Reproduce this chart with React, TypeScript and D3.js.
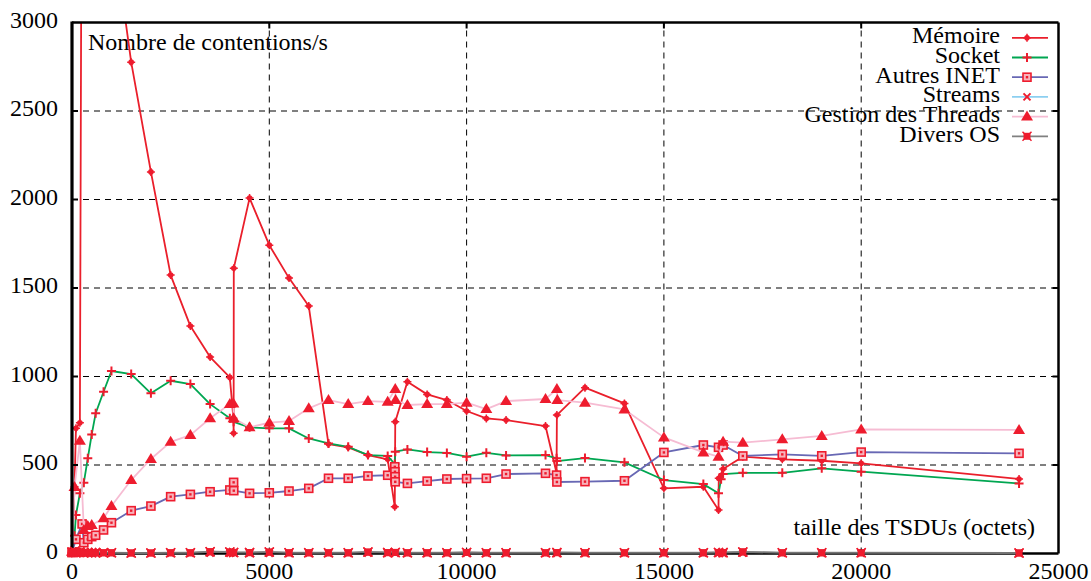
import React from 'react';
import * as d3 from 'd3';

type Pt = [number, number];

const xTicks = [0, 5000, 10000, 15000, 20000, 25000];
const yTicks = [0, 500, 1000, 1500, 2000, 2500, 3000];

const memoire: Pt[] = [
  [0, 5], [64, 377], [100, 707], [200, 739], [256, 4800], [1500, 2776], [2000, 2156],
  [2500, 1573], [3000, 1285], [3500, 1110], [4000, 995], [4090, 764], [4096, 679],
  [4100, 1612], [4500, 2008], [5000, 1742], [5500, 1556], [6000, 1398], [6500, 618],
  [7000, 600], [7500, 556], [8000, 532], [8180, 264], [8192, 744], [8500, 970],
  [9000, 899], [9500, 867], [10000, 805], [10500, 763], [11000, 754], [12000, 720],
  [12280, 455], [12288, 782], [13000, 937], [14000, 848], [15000, 368], [16000, 377],
  [16384, 246], [16390, 425], [16500, 477], [17000, 547], [18000, 532], [19000, 524],
  [20000, 509], [24000, 421],
];

const socket: Pt[] = [
  [0, 5], [64, 100], [100, 217], [200, 340], [300, 400], [400, 538], [500, 673],
  [600, 792], [800, 914], [1000, 1031], [1500, 1014], [2000, 905], [2500, 976],
  [3000, 957], [3500, 844], [4000, 764], [4096, 744], [4500, 713], [5000, 707],
  [5500, 707], [6000, 650], [6500, 622], [7000, 603], [7500, 556], [8000, 551],
  [8180, 505], [8192, 575], [8500, 588], [9000, 573], [9500, 568], [10000, 547],
  [10500, 569], [11000, 554], [12000, 556], [12280, 538], [12288, 522], [13000, 539],
  [14000, 515], [15000, 415], [16000, 392], [16384, 340], [16450, 420], [16500, 449],
  [17000, 456], [18000, 456], [19000, 481], [20000, 462], [24000, 396],
];

const autresInet: Pt[] = [
  [0, 5], [100, 80], [256, 167], [300, 61], [400, 80], [500, 95], [600, 103],
  [800, 133], [1000, 174], [1500, 242], [2000, 268], [2500, 321], [3000, 334],
  [3500, 349], [4000, 359], [4096, 402], [4100, 355], [4500, 340], [5000, 343],
  [5500, 353], [6000, 368], [6500, 425], [7000, 425], [7500, 438], [8000, 442],
  [8180, 490], [8184, 462], [8188, 434], [8192, 405], [8500, 396], [9000, 409],
  [9500, 421], [10000, 423], [10500, 425], [11000, 449], [12000, 453], [12280, 443],
  [12288, 404], [13000, 406], [14000, 411], [15000, 571], [16000, 613], [16384, 600],
  [16500, 613], [17000, 551], [18000, 560], [19000, 552], [20000, 573], [24000, 566],
];

const streams: Pt[] = [
  [0, 2], [64, 1], [100, 2], [200, 1], [300, 1], [400, 2], [500, 1], [600, 1],
  [800, 1], [1000, 1], [1500, 1], [2000, 1], [2500, 1], [3000, 1], [3500, 2],
  [4000, 1], [4096, 2], [4500, 1], [5000, 1], [5500, 1], [6000, 1], [6500, 1],
  [7000, 1], [7500, 2], [8000, 1], [8192, 1], [8500, 1], [9000, 1], [9500, 1],
  [10000, 1], [10500, 1], [11000, 1], [12000, 1], [12288, 1], [13000, 1], [14000, 1],
  [15000, 1], [16000, 1], [16384, 1], [16500, 1], [17000, 2], [18000, 1], [19000, 1],
  [20000, 1], [24000, 1],
];

const threads: Pt[] = [
  [0, 10], [64, 376], [200, 637], [300, 133], [400, 155], [500, 161], [800, 199],
  [1000, 268], [1500, 415], [2000, 534], [2500, 631], [3000, 669], [3500, 764],
  [4000, 844], [4090, 848], [4096, 764], [4500, 713], [5000, 739], [5500, 748],
  [6000, 820], [6500, 867], [7000, 844], [7500, 861], [8000, 857], [8192, 929],
  [8200, 867], [8500, 839], [9000, 844], [9500, 844], [10000, 852], [10500, 816],
  [11000, 861], [12000, 873], [12288, 929], [12300, 867], [13000, 852], [14000, 814],
  [15000, 656], [16000, 571], [16384, 547], [16500, 632], [17000, 626], [18000, 645],
  [19000, 664], [20000, 701], [24000, 698],
];

const diversOs: Pt[] = [
  [0, 8], [64, 12], [100, 6], [200, 9], [300, 5], [400, 6], [500, 5], [600, 5],
  [800, 4], [1000, 4], [1500, 3], [2000, 3], [2500, 4], [3000, 4], [3500, 10],
  [4000, 8], [4096, 6], [4500, 5], [5000, 8], [5500, 4], [6000, 4], [6500, 4],
  [7000, 4], [7500, 8], [8000, 5], [8192, 6], [8500, 4], [9000, 4], [9500, 4],
  [10000, 6], [10500, 4], [11000, 4], [12000, 4], [12288, 5], [13000, 4], [14000, 4],
  [15000, 4], [16000, 4], [16384, 6], [16500, 5], [17000, 9], [18000, 4], [19000, 4],
  [20000, 4], [24000, 3],
];

const seriesNames = ['Mémoire', 'Socket', 'Autres INET', 'Streams', 'Gestion des Threads', 'Divers OS'];
const seriesData = [memoire, socket, autresInet, streams, threads, diversOs];
const lineColors = ['#ea1f2b', '#00a651', '#6868b4', '#8ccff0', '#f6bcd3', '#808080'];
const markerKinds = ['dot', 'plus', 'square', 'cross', 'triangle', 'boxx'];
const MARK = '#ee1c2e';
const FONT = 'Liberation Serif';

const W = 1091, H = 581;
const L = 72, R = 1058.5, T = 22.5, B = 553.5;

function Marker({ kind, x, y }: { kind: string; x: number; y: number }) {
  const tr = `translate(${x},${y})`;
  switch (kind) {
    case 'dot':
      return (
        <g transform={tr}>
          <circle r={2.8} fill={MARK} />
          <path d="M-4,0H4M0,-4V4" stroke={MARK} strokeWidth={1.5} />
        </g>
      );
    case 'plus':
      return <path transform={tr} d="M-4.5,0H4.5M0,-4.5V4.5" stroke={MARK} strokeWidth={2} fill="none" />;
    case 'square':
      return (
        <g transform={tr}>
          <rect x={-4} y={-4} width={8} height={8} fill="#f7b3bb" stroke={MARK} strokeWidth={1.6} />
          <rect x={-1.2} y={-1.2} width={2.4} height={2.4} fill={MARK} />
        </g>
      );
    case 'cross':
      return <path transform={tr} d="M-3.5,-3.5L3.5,3.5M-3.5,3.5L3.5,-3.5" stroke={MARK} strokeWidth={2} fill="none" />;
    case 'triangle':
      return <path transform={tr} d="M0,-6L6,4L-6,4Z" fill={MARK} />;
    case 'boxx':
    default:
      return (
        <g transform={tr}>
          <rect x={-3.5} y={-3.5} width={7} height={7} fill={MARK} />
          <path d="M-4.5,-4.5L4.5,4.5M-4.5,4.5L4.5,-4.5" stroke={MARK} strokeWidth={1.5} />
        </g>
      );
  }
}

export default function App() {
  const x = d3.scaleLinear().domain([0, 25000]).range([L, R]);
  const y = d3.scaleLinear().domain([0, 3000]).range([B, T]);
  const line = d3.line<Pt>().x(d => x(d[0])).y(d => y(d[1]));

  const legendY0 = 37.8;
  const legendDy = 19.7;
  const txt = { fontFamily: FONT, fontSize: '24px' };

  return (
    <svg width={W} height={H} style={{ position: 'absolute', left: 0, top: 0, background: '#fff' }}>
      <defs>
        <clipPath id="plot">
          <rect x={L} y={T} width={R - L} height={B - T} />
        </clipPath>
      </defs>
      <rect x={0} y={0} width={W} height={H} fill="#fff" />
      {/* grid */}
      <g stroke="#000" strokeWidth={1} strokeDasharray="6,5" fill="none">
        {xTicks.filter(t => t > 0 && t < 25000).map(t => (
          <line key={'gx' + t} x1={x(t)} x2={x(t)} y1={B} y2={T} />
        ))}
        {yTicks.filter(t => t > 0 && t < 3000).map(t => (
          <line key={'gy' + t} x1={L} x2={R} y1={y(t)} y2={y(t)} />
        ))}
      </g>
      {/* labels inside plot */}
      <text x={88} y={49.5} style={txt}>Nombre de contentions/s</text>
      <text x={1035} y={535} style={txt} textAnchor="end">taille des TSDUs (octets)</text>
      {/* legend */}
      {seriesNames.map((n, i) => {
        const ly = legendY0 + i * legendDy;
        return (
          <g key={'lg' + i}>
            <text x={1000} y={ly + 5.5} style={txt} textAnchor="end">{n}</text>
            <line x1={1012} x2={1048} y1={ly} y2={ly} stroke={lineColors[i]} strokeWidth={1.8} />
            <Marker kind={markerKinds[i]} x={1027} y={ly} />
          </g>
        );
      })}
      {/* data */}
      {seriesData.map((data, i) => (
        <g key={'s' + i}>
          <path d={line(data) || ''} fill="none" stroke={lineColors[i]} strokeWidth={1.8}
            clipPath="url(#plot)" strokeLinejoin="round" />
          {data.filter(d => d[1] <= 3000).map((d, j) => (
            <Marker key={j} kind={markerKinds[i]} x={x(d[0])} y={y(d[1])} />
          ))}
        </g>
      ))}
      {/* ticks */}
      <g stroke="#000" strokeWidth={2}>
        {yTicks.filter(t => t > 0 && t < 3000).map(t => (
          <g key={'ty' + t}>
            <line x1={L} x2={L + 6} y1={y(t)} y2={y(t)} />
            <line x1={R} x2={R - 6} y1={y(t)} y2={y(t)} />
          </g>
        ))}
        {xTicks.filter(t => t > 0 && t < 25000).map(t => (
          <g key={'tx' + t}>
            <line x1={x(t)} x2={x(t)} y1={B} y2={B - 4} />
            <line x1={x(t)} x2={x(t)} y1={T} y2={T + 6} />
          </g>
        ))}
      </g>
      {/* frame */}
      <line x1={L} x2={R} y1={T} y2={T} stroke="#000" strokeWidth={2.5} />
      <line x1={R} x2={R} y1={T} y2={B} stroke="#000" strokeWidth={2.5} />
      <line x1={L} x2={R} y1={B} y2={B} stroke="#000" strokeWidth={2.5} />
      <line x1={L} x2={L} y1={T - 1} y2={B + 1} stroke="#000" strokeWidth={3.2} />
      {/* redraw bottom-most series on top of frame bottom */}
      <path d={line(diversOs) || ''} fill="none" stroke={lineColors[5]} strokeWidth={2} opacity={0.9} />
      {diversOs.map((d, j) => (
        <Marker key={'dm' + j} kind="boxx" x={x(d[0])} y={y(d[1])} />
      ))}
      {/* axis labels */}
      {yTicks.map(t => (
        <text key={'ly' + t} x={58} y={y(t) + 5} style={txt} textAnchor="end">{t}</text>
      ))}
      {xTicks.map(t => (
        <text key={'lx' + t} x={x(t)} y={579} style={txt} textAnchor="middle">{t}</text>
      ))}
    </svg>
  );
}
